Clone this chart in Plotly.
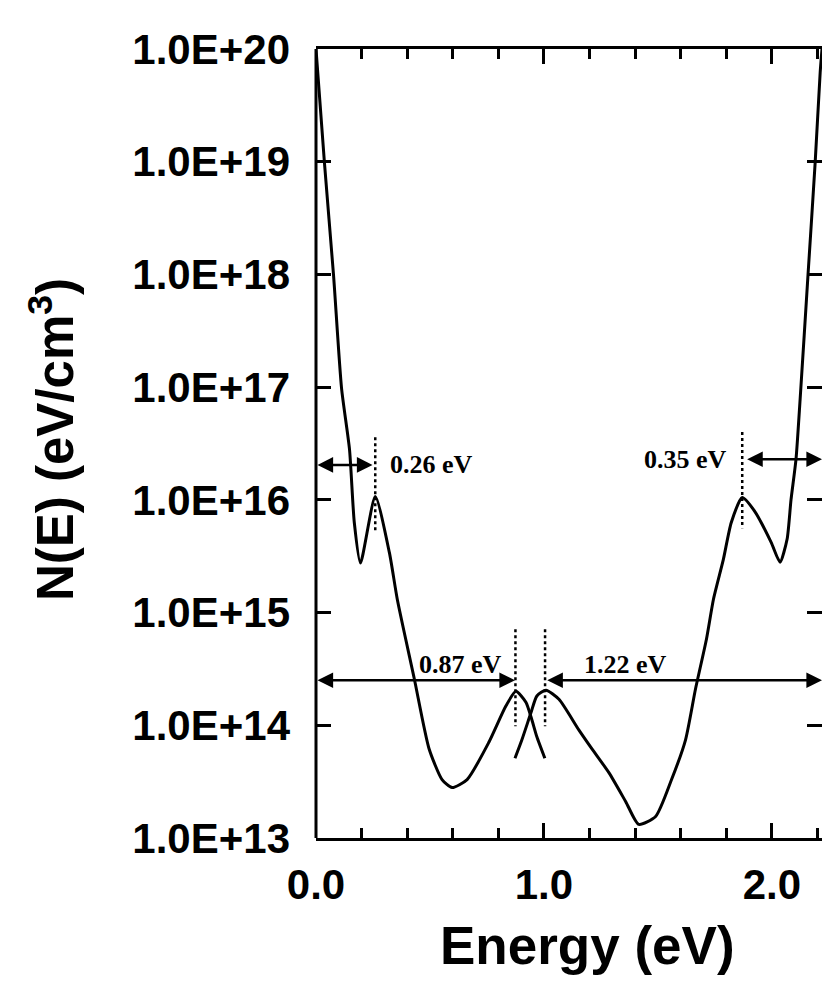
import plotly.graph_objects as go

# ---- data ----
energy_a = [0.000, 0.037, 0.077, 0.112, 0.147, 0.168, 0.195, 0.260, 0.322, 0.357,
            0.431, 0.496, 0.553, 0.597, 0.663, 0.759, 0.833, 0.877, 0.921, 0.947,
            0.969, 1.004]
dos_a = [1.0e20, 9.8e18, 9.8e17, 9.8e16, 2.8e16, 6.3e15, 2.75e15, 1.07e16, 3.4e15, 1.3e15,
         2.6e14, 6.2e13, 3.3e13, 2.8e13, 3.3e13, 7.1e13, 1.48e14, 2.0e14, 1.6e14, 1.12e14,
         7.9e13, 5.1e13]

energy_b = [0.873, 0.903, 0.943, 0.969, 1.009, 1.066, 1.153, 1.210, 1.285, 1.359,
            1.416, 1.490, 1.560, 1.621, 1.665, 1.713, 1.744, 1.787, 1.822, 1.870,
            1.927, 1.997, 2.036, 2.067, 2.084, 2.106, 2.124, 2.159, 2.190, 2.212, 2.220]
dos_b = [5.1e13, 7.4e13, 1.29e14, 1.82e14, 2.05e14, 1.7e14, 9.1e13, 6.2e13, 3.8e13, 2.1e13,
         1.32e13, 1.55e13, 3.3e13, 7.4e13, 2.1e14, 5.8e14, 1.32e15, 2.95e15, 6.3e15, 1.05e16,
         7.8e15, 4.2e15, 2.8e15, 4.5e15, 1.0e16, 2.3e16, 7.8e16, 1.02e18, 9.8e18, 6.2e19, 1.0e20]

# dotted marker lines: energy, top, bottom
marker_energy = [0.26, 1.87, 0.875, 1.005]
marker_top = [3.6e16, 4.0e16, 7.1e14, 7.1e14]
marker_bottom = [5.2e15, 5.6e15, 9.8e13, 9.8e13]

# double arrows: start energy, end energy, log10 level
arrow_start = [0.0, 0.0, 1.885, 0.0, 1.008]
arrow_end = [2.22, 0.248, 2.22, 0.873, 2.22]
arrow_level = [20.09, 16.31, 16.36, 14.40, 14.40]
# labels
arrow_labels = ["2.22 eV", "0.26 eV", "0.35 eV", "0.87 eV", "1.22 eV"]
label_energy = [1.109, 0.505, 1.623, 0.634, 1.360]
label_level = [20.21, 16.31, 16.36, 14.54, 14.54]

ytick_vals = [1e13, 1e14, 1e15, 1e16, 1e17, 1e18, 1e19, 1e20]
ytick_text = ["1.0E+13", "1.0E+14", "1.0E+15", "1.0E+16", "1.0E+17", "1.0E+18", "1.0E+19", "1.0E+20"]
xtick_vals = [0, 1, 2]
xtick_text = ["0.0", "1.0", "2.0"]

W, H = 822, 996
pl, pr, pt, pb = 316, 0, 49, 158
pw, ph = W - pl - pr, H - pt - pb


def px_to_paper(xp, yp):
    return (xp - pl) / pw, 1 - (yp - pt) / ph


fig = go.Figure()
line_style = dict(color="black", width=3, shape="spline", smoothing=0.6)
fig.add_trace(go.Scatter(x=energy_a, y=dos_a, mode="lines", line=line_style,
                         showlegend=False, hoverinfo="skip"))
fig.add_trace(go.Scatter(x=energy_b, y=dos_b, mode="lines", line=line_style,
                         showlegend=False, hoverinfo="skip"))
for e, t, b in zip(marker_energy, marker_top, marker_bottom):
    fig.add_trace(go.Scatter(x=[e, e], y=[t, b], mode="lines",
                             line=dict(color="black", width=2.5, dash="dot"),
                             showlegend=False, hoverinfo="skip"))

serif = dict(family="Liberation Serif", size=26, color="black", weight="bold")
for s, e, lv in zip(arrow_start, arrow_end, arrow_level):
    fig.add_annotation(x=e, y=lv, ax=s, ay=lv, xref="x", yref="y", axref="x", ayref="y",
                       text="", showarrow=True, arrowhead=2, startarrowhead=2,
                       arrowside="end+start", arrowsize=1.25, startarrowsize=1.25,
                       arrowwidth=2.5, arrowcolor="black", standoff=0, startstandoff=0)
for txt, e, lv in zip(arrow_labels, label_energy, label_level):
    fig.add_annotation(x=e, y=lv, xref="x", yref="y", text=txt, showarrow=False,
                       font=serif, xanchor="center", yanchor="middle")

sans_bold = dict(family="Liberation Sans", color="black", weight="bold")
tx, ty = px_to_paper(587, 945)
fig.add_annotation(x=tx, y=ty, xref="paper", yref="paper", text="Energy (eV)",
                   showarrow=False, xanchor="center", yanchor="middle",
                   font=dict(size=53, **sans_bold))
tx, ty = px_to_paper(52, 440)
fig.add_annotation(x=tx, y=ty, xref="paper", yref="paper", text="N(E) (eV/cm<sup>3</sup>)",
                   showarrow=False, textangle=-90, xanchor="center", yanchor="middle",
                   font=dict(size=51, **sans_bold))

# left axis line (right side is cut off in the reference, only its ticks show)
fig.add_shape(type="line", xref="paper", yref="paper", x0=0, x1=0, y0=0, y1=1,
              line=dict(color="black", width=3))

fig.update_layout(
    width=W, height=H,
    margin=dict(l=pl, r=pr, t=pt, b=pb),
    paper_bgcolor="white", plot_bgcolor="white",
    font=dict(family="Liberation Sans", color="black"),
)

fig.update_xaxes(range=[0, 2.22], showline=True, linecolor="black", linewidth=3,
                 mirror="ticks", ticks="inside", ticklen=15, tickwidth=3, tickcolor="black",
                 tickvals=xtick_vals, ticktext=xtick_text,
                 tickfont=dict(size=42, **sans_bold), ticklabelstandoff=8,
                 minor=dict(dtick=0.2, ticks="inside", ticklen=10, tickwidth=3, tickcolor="black"),
                 showgrid=False, zeroline=False)
fig.update_yaxes(type="log", range=[13, 20], showline=False,
                 mirror="ticks", ticks="inside", ticklen=15, tickwidth=3, tickcolor="black",
                 tickvals=ytick_vals, ticktext=ytick_text,
                 tickfont=dict(size=42, **sans_bold), ticklabelstandoff=25,
                 showgrid=False, zeroline=False)

fig.write_html("out.html")
